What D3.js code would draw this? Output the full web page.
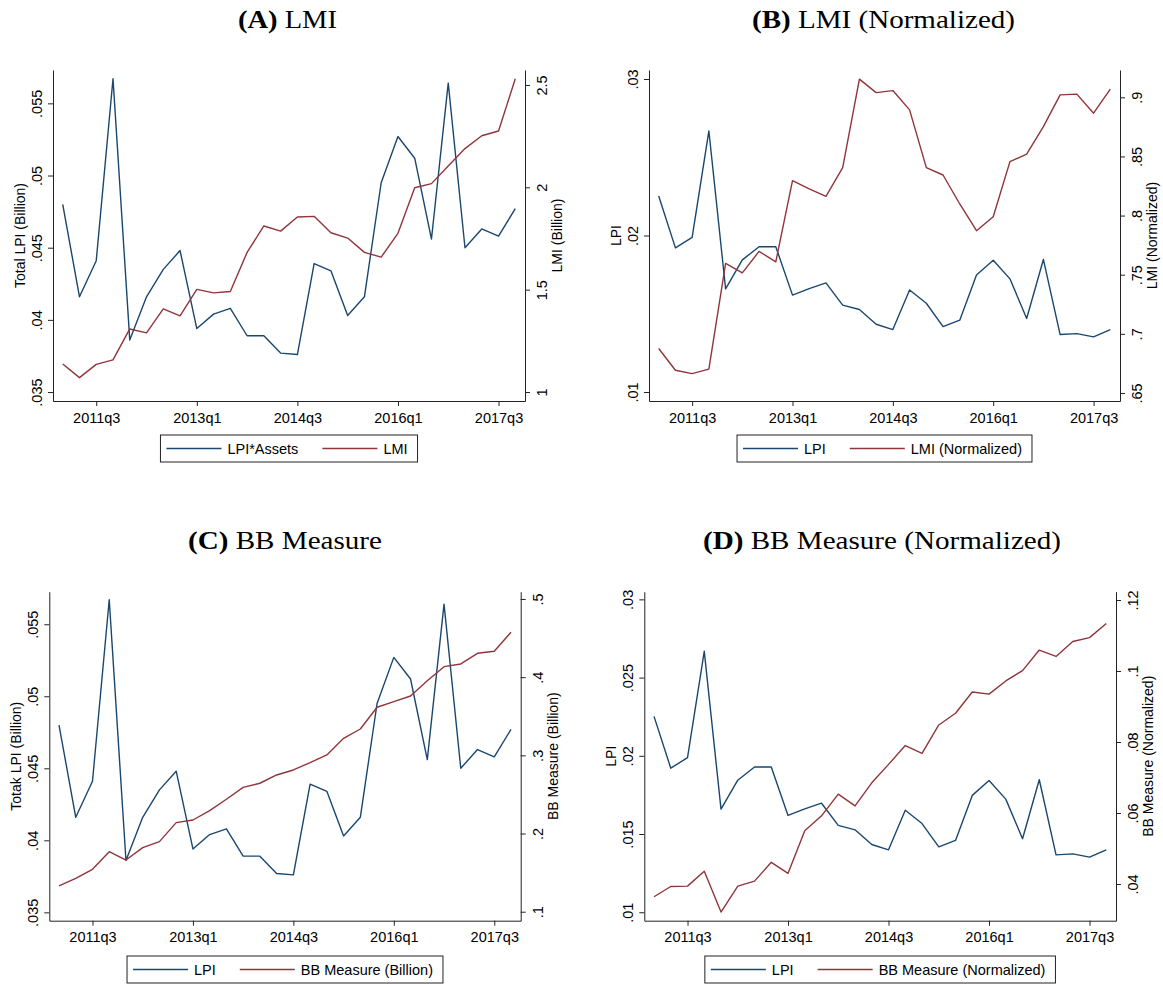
<!DOCTYPE html>
<html>
<head>
<meta charset="utf-8">
<script src="https://cdn.jsdelivr.net/npm/d3@7"></script>
<style>
  body { margin: 0; background: #fff; }
  svg { display: block; font-family: "Liberation Sans", Arial, sans-serif; }
</style>
</head>
<body>
<svg id="chart" width="1163" height="984"></svg>
<script>
// quarterly sample, 2011q1 .. 2017q4
const quarters = [
  '2011q1', '2011q2', '2011q3', '2011q4', '2012q1', '2012q2', '2012q3', '2012q4',
  '2013q1', '2013q2', '2013q3', '2013q4', '2014q1', '2014q2', '2014q3', '2014q4',
  '2015q1', '2015q2', '2015q3', '2015q4', '2016q1', '2016q2', '2016q3', '2016q4',
  '2017q1', '2017q2', '2017q3', '2017q4'
];
const xTickLabels = ['2011q3', '2013q1', '2014q3', '2016q1', '2017q3'];

// series
const lpiAssets = [0.0480, 0.0416, 0.0441, 0.0567, 0.0386, 0.0416, 0.0435, 0.0448, 0.0394, 0.0404,
  0.0408, 0.0389, 0.0389, 0.0377, 0.0376, 0.0439, 0.0434, 0.0403, 0.0416, 0.0495,
  0.0527, 0.0512, 0.0456, 0.0564, 0.0450, 0.0463, 0.0458, 0.0477];
const lmi = [1.137, 1.070, 1.135, 1.157, 1.308, 1.289, 1.406, 1.372, 1.501, 1.484,
  1.491, 1.682, 1.811, 1.786, 1.855, 1.858, 1.778, 1.752, 1.682, 1.659,
  1.775, 1.998, 2.018, 2.104, 2.189, 2.252, 2.275, 2.530];
const lpi = [0.02252, 0.01921, 0.01988, 0.02668, 0.01659, 0.01844, 0.01928, 0.01928, 0.01619, 0.01661,
  0.01697, 0.01555, 0.01527, 0.01433, 0.01399, 0.01652, 0.01567, 0.01418, 0.01459, 0.01747,
  0.01842, 0.01723, 0.01470, 0.01847, 0.01367, 0.01373, 0.01352, 0.01399];
const lmiNormalized = [0.6876, 0.6692, 0.6664, 0.6701, 0.7596, 0.7516, 0.7697, 0.7609, 0.8295, 0.8225,
  0.8163, 0.8405, 0.9154, 0.9040, 0.9057, 0.8894, 0.8405, 0.8343, 0.8098, 0.7872,
  0.7990, 0.8456, 0.8519, 0.8752, 0.9021, 0.9027, 0.8866, 0.9069];
const bbMeasure = [0.1329, 0.1427, 0.1542, 0.1768, 0.1661, 0.1819, 0.1896, 0.2139, 0.2173, 0.2292,
  0.2438, 0.2591, 0.2643, 0.2749, 0.2813, 0.2906, 0.3005, 0.3218, 0.3337, 0.3615,
  0.3687, 0.3759, 0.3955, 0.4134, 0.4169, 0.4305, 0.4331, 0.4574];
const bbNormalized = [0.0364, 0.0393, 0.0394, 0.0436, 0.0321, 0.0394, 0.0408, 0.0461, 0.0430, 0.0550,
  0.0592, 0.0653, 0.0620, 0.0685, 0.0737, 0.0790, 0.0768, 0.0848, 0.0881, 0.0941,
  0.0935, 0.0972, 0.1001, 0.1059, 0.1041, 0.1083, 0.1094, 0.1134];

// axis ticks
const ticksTotalLpi = [0.035, 0.04, 0.045, 0.05, 0.055];
const ticksLmi = [1, 1.5, 2, 2.5];
const ticksLpiB = [0.01, 0.02, 0.03];
const ticksLmiNorm = [0.65, 0.7, 0.75, 0.8, 0.85, 0.9];
const ticksBb = [0.1, 0.2, 0.3, 0.4, 0.5];
const ticksLpiD = [0.01, 0.015, 0.02, 0.025, 0.03];
const ticksBbNorm = [0.04, 0.06, 0.08, 0.1, 0.12];

const BLUE = '#1a476f';
const RED = '#90353b';
const AXIS = '#222';

const panels = [
  { tag: '(A)', name: ' LMI', cx: 287.5, ty: 28, tw: 99,
    left: 53, right: 525, top: 70, bottom: 401, legendY: 435,
    yL: [0.03438, 0.05731], tL: ticksTotalLpi, titleL: 'Total LPI (Billion)',
    yR: [0.956, 2.573], tR: ticksLmi, titleR: 'LMI (Billion)',
    blue: lpiAssets, red: lmi, labels: ['LPI*Assets', 'LMI'] },
  { tag: '(B)', name: ' LMI (Normalized)', cx: 883.5, ty: 28, tw: 263,
    left: 649, right: 1120, top: 70, bottom: 401, legendY: 435,
    yL: [0.009424, 0.030576], tL: ticksLpiB, titleL: 'LPI',
    yR: [0.6432, 0.9231], tR: ticksLmiNorm, titleR: 'LMI (Normalized)',
    blue: lpi, red: lmiNormalized, labels: ['LPI', 'LMI (Normalized)'] },
  { tag: '(C)', name: ' BB Measure', cx: 285, ty: 549, tw: 194,
    left: 49.3, right: 520.7, top: 591.7, bottom: 920.7, legendY: 956,
    yL: [0.03442, 0.05726], tL: ticksTotalLpi, titleL: 'Totak LPI (Billion)',
    yR: [0.0885, 0.5093], tR: ticksBb, titleR: 'BB Measure (Billion)',
    blue: lpiAssets, red: bbMeasure, labels: ['LPI', 'BB Measure (Billion)'] },
  { tag: '(D)', name: ' BB Measure (Normalized)', cx: 882, ty: 549, tw: 358,
    left: 644.3, right: 1116, top: 591.7, bottom: 920.7, legendY: 956,
    yL: [0.00946, 0.03049], tL: ticksLpiD, titleL: 'LPI',
    yR: [0.02966, 0.12234], tR: ticksBbNorm, titleR: 'BB Measure (Normalized)',
    blue: lpi, red: bbNormalized, labels: ['LPI', 'BB Measure (Normalized)'] }
];

// Stata style: drop the leading zero
const fmt = (v) => String(+v.toFixed(4)).replace(/^0\./, '.');

const svg = d3.select('#chart');

const styleAxis = (g) => {
  g.select('.domain').attr('stroke', AXIS).attr('stroke-width', 1);
  g.selectAll('.tick line').attr('stroke', AXIS);
  g.selectAll('.tick text').attr('fill', '#000').attr('font-size', 14.5);
};

panels.forEach((p) => {
  const g = svg.append('g');

  const x = d3.scalePoint().domain(quarters).range([p.left, p.right]).padding(0.58);
  const yL = d3.scaleLinear().domain(p.yL).range([p.bottom, p.top]);
  const yR = d3.scaleLinear().domain(p.yR).range([p.bottom, p.top]);

  // title
  const title = g.append('text')
      .attr('x', p.cx)
      .attr('y', p.ty)
      .attr('text-anchor', 'middle')
      .attr('font-family', '"Liberation Serif", "Times New Roman", serif')
      .attr('font-size', 26)
      .attr('textLength', p.tw)
      .attr('lengthAdjust', 'spacingAndGlyphs');
  title.append('tspan').attr('font-weight', 'bold').text(p.tag);
  title.append('tspan').text(p.name);

  // x axis
  g.append('g')
      .attr('transform', `translate(0,${p.bottom})`)
      .call(d3.axisBottom(x).tickValues(xTickLabels).tickSize(5).tickSizeOuter(0))
      .call(styleAxis)
      .call((a) => a.selectAll('.tick text').attr('y', 0).attr('dy', 21.5));

  // left axis
  g.append('g')
      .attr('transform', `translate(${p.left},0)`)
      .call(d3.axisLeft(yL).tickValues(p.tL).tickFormat(fmt).tickSize(5).tickSizeOuter(0))
      .call(styleAxis)
      .call((a) => a.selectAll('.tick text')
        .attr('transform', 'rotate(-90)')
        .attr('text-anchor', 'middle')
        .attr('x', 0).attr('y', -16).attr('dy', '0.35em'));

  // right axis
  g.append('g')
      .attr('transform', `translate(${p.right},0)`)
      .call(d3.axisRight(yR).tickValues(p.tR).tickFormat(fmt).tickSize(5).tickSizeOuter(0))
      .call(styleAxis)
      .call((a) => a.selectAll('.tick text')
        .attr('transform', 'rotate(-90)')
        .attr('text-anchor', 'middle')
        .attr('x', 0).attr('y', 17).attr('dy', '0.35em'));

  // axis titles
  const midY = (p.top + p.bottom) / 2;
  g.append('text')
      .attr('transform', `translate(${p.left - 33},${midY}) rotate(-90)`)
      .attr('text-anchor', 'middle')
      .attr('dy', '0.35em')
      .attr('font-size', 14)
      .text(p.titleL);
  g.append('text')
      .attr('transform', `translate(${p.right + 32},${midY}) rotate(-90)`)
      .attr('text-anchor', 'middle')
      .attr('dy', '0.35em')
      .attr('font-size', 14)
      .text(p.titleR);

  // series
  const lineL = d3.line().x((d, i) => x(quarters[i])).y((d) => yL(d));
  const lineR = d3.line().x((d, i) => x(quarters[i])).y((d) => yR(d));
  g.append('path')
      .datum(p.blue)
      .attr('fill', 'none')
      .attr('stroke', BLUE)
      .attr('stroke-width', 1.4)
      .attr('stroke-linejoin', 'round')
      .attr('d', lineL);
  g.append('path')
      .datum(p.red)
      .attr('fill', 'none')
      .attr('stroke', RED)
      .attr('stroke-width', 1.4)
      .attr('stroke-linejoin', 'round')
      .attr('d', lineR);

  // legend
  const lg = g.append('g');
  const box = lg.append('rect');
  const colors = [BLUE, RED];
  let cx = 6;
  p.labels.forEach((label, i) => {
    lg.append('line')
        .attr('x1', cx).attr('x2', cx + 55)
        .attr('y1', 13.5).attr('y2', 13.5)
        .attr('stroke', colors[i])
        .attr('stroke-width', 1.4);
    cx += 61;
    const t = lg.append('text')
        .attr('x', cx).attr('y', 13.5)
        .attr('dy', '0.36em')
        .attr('font-size', 14.5)
        .text(label);
    cx += t.node().getComputedTextLength() + (i === 0 ? 24 : 10);
  });
  box.attr('width', cx).attr('height', 27)
      .attr('fill', '#fff').attr('stroke', AXIS).attr('stroke-width', 1);
  lg.attr('transform', `translate(${(p.left + p.right) / 2 - cx / 2},${p.legendY})`);
});
</script>
</body>
</html>
